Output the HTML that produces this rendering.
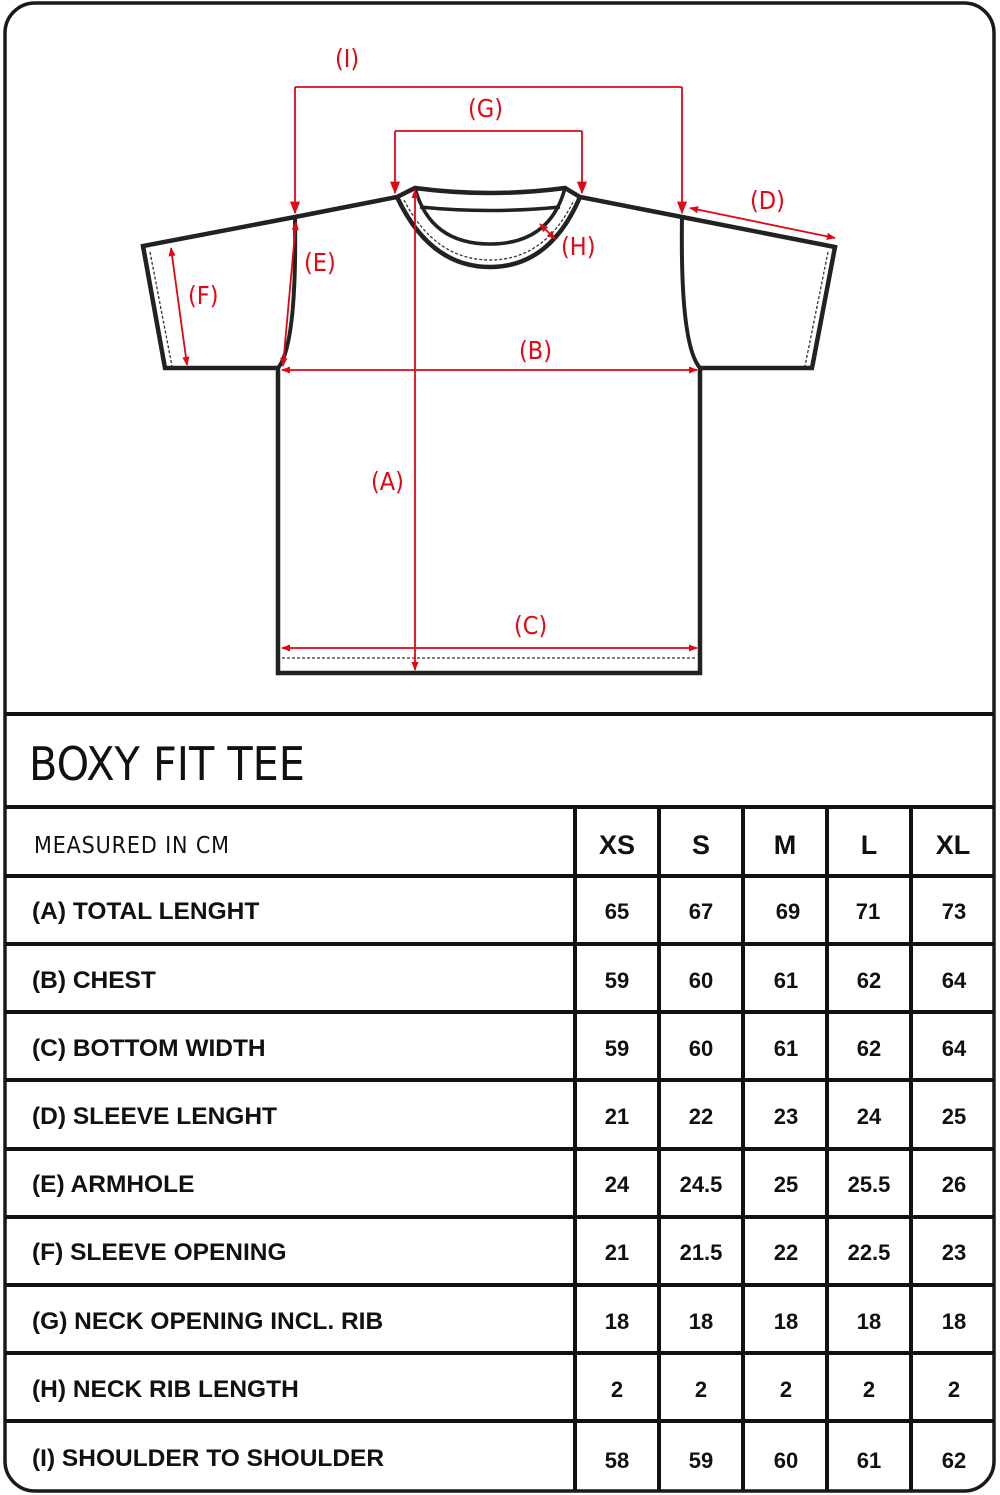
<!DOCTYPE html>
<html><head><meta charset="utf-8"><style>
html,body{margin:0;padding:0;background:#fff}
svg{display:block}
.r{fill:#e30613;font-family:"DejaVu Sans Condensed","Liberation Sans",sans-serif;font-size:25px}
.t{font-family:"Liberation Sans",sans-serif;font-weight:bold;font-size:24.5px;fill:#111}
.n{font-family:"Liberation Sans",sans-serif;font-weight:bold;font-size:22px;fill:#111;text-anchor:middle}
</style></head><body>
<svg width="1000" height="1495" viewBox="0 0 1000 1495" xmlns="http://www.w3.org/2000/svg">
<defs>
<marker id="a" viewBox="0 0 10 10" refX="9" refY="5" markerWidth="7" markerHeight="7" orient="auto-start-reverse"><path d="M0,1 L10,5 L0,9 z" fill="#e30613"/></marker>
<marker id="s" viewBox="0 0 10 10" refX="9" refY="5" markerWidth="5" markerHeight="5" orient="auto-start-reverse"><path d="M0,1 L10,5 L0,9 z" fill="#e30613"/></marker>
</defs>
<rect x="5" y="3" width="989" height="1488" rx="30" fill="#fff" stroke="#1a1a1a" stroke-width="3.5"/>
<g fill="none" stroke="#222" stroke-width="4.5" stroke-linejoin="miter">
<path d="M397,197 L415,188 Q490,198 565,188 L580,197 L682,217 L835,247 L812,368 L700,368 L700,673 L278,673 L278,368 L165,368 L143,246 L295,217 Z" fill="#fff"/>
<path d="M397,197 Q430,267 490,267 Q550,267 580,197"/>
<path d="M415,188 Q430,244 490,244 Q550,244 565,188" stroke-width="3.5"/>
<path d="M420,207 Q490,214 560,207" stroke-width="3.5"/>
<path d="M295,217 Q297,345 278,368" stroke-width="4"/>
<path d="M682,217 Q680,345 700,368" stroke-width="4"/>
</g>
<g fill="none" stroke="#333" stroke-width="1.3" stroke-dasharray="3,2">
<path d="M404,200 Q435,260 490,260 Q545,260 574,200"/>
<path d="M150,252 L172,366"/>
<path d="M828,252 L805,366"/>
<path d="M282,658 L697,658"/>
</g>
<g stroke="#e30613" stroke-width="1.8" fill="none">
<path d="M295,87 L682,87"/>
<path d="M295,87 L295,213" marker-end="url(#a)"/>
<path d="M682,87 L682,213" marker-end="url(#a)"/>
<path d="M395,131 L582,131"/>
<path d="M395,131 L395,193" marker-end="url(#a)"/>
<path d="M582,131 L582,193" marker-end="url(#a)"/>
<path d="M415,190 L415,670" marker-start="url(#s)" marker-end="url(#s)"/>
<path d="M282,370 L697,370" marker-start="url(#s)" marker-end="url(#s)"/>
<path d="M282,648 L697,648" marker-start="url(#s)" marker-end="url(#s)"/>
<path d="M690,208 L835,238" marker-start="url(#s)" marker-end="url(#s)"/>
<path d="M283,366 L296,222" marker-start="url(#s)" marker-end="url(#s)"/>
<path d="M171,248 L187,365" marker-start="url(#s)" marker-end="url(#s)"/>
<path d="M540,224 L555,239" marker-start="url(#s)" marker-end="url(#s)"/>
</g>
<text class="r" x="335" y="67">(I)</text>
<text class="r" x="468" y="117">(G)</text>
<text class="r" x="750" y="209">(D)</text>
<text class="r" x="561" y="255">(H)</text>
<text class="r" x="304" y="271">(E)</text>
<text class="r" x="188" y="304">(F)</text>
<text class="r" x="519" y="359">(B)</text>
<text class="r" x="371" y="490">(A)</text>
<text class="r" x="514" y="634">(C)</text>
<g stroke="#111" stroke-width="4">
<line x1="5" y1="714" x2="994" y2="714"/>
<line x1="5" y1="807" x2="994" y2="807"/>
<line x1="5" y1="876" x2="994" y2="876"/>
<line x1="5" y1="944" x2="994" y2="944"/>
<line x1="5" y1="1012" x2="994" y2="1012"/>
<line x1="5" y1="1080" x2="994" y2="1080"/>
<line x1="5" y1="1149" x2="994" y2="1149"/>
<line x1="5" y1="1217" x2="994" y2="1217"/>
<line x1="5" y1="1285" x2="994" y2="1285"/>
<line x1="5" y1="1353" x2="994" y2="1353"/>
<line x1="5" y1="1421" x2="994" y2="1421"/>
<line x1="575" y1="807" x2="575" y2="1490"/>
<line x1="659" y1="807" x2="659" y2="1490"/>
<line x1="743" y1="807" x2="743" y2="1490"/>
<line x1="827" y1="807" x2="827" y2="1490"/>
<line x1="911" y1="807" x2="911" y2="1490"/>
</g>
<text x="29" y="780" style="font-family:'DejaVu Sans Condensed','Liberation Sans',sans-serif;font-size:46px;fill:#111">BOXY FIT TEE</text>
<text x="34" y="853" style="font-family:'DejaVu Sans Condensed','Liberation Sans',sans-serif;font-size:23px;fill:#111" textLength="195">MEASURED IN CM</text>
<g class="n" style="font-size:27px">
<text x="617" y="854">XS</text><text x="701" y="854">S</text><text x="785" y="854">M</text><text x="869" y="854">L</text><text x="953" y="854">XL</text>
</g>
<g class="t">
<text x="32" y="919">(A) TOTAL LENGHT</text>
<text x="32" y="988">(B) CHEST</text>
<text x="32" y="1056">(C) BOTTOM WIDTH</text>
<text x="32" y="1124">(D) SLEEVE LENGHT</text>
<text x="32" y="1192">(E) ARMHOLE</text>
<text x="32" y="1260">(F) SLEEVE OPENING</text>
<text x="32" y="1329">(G) NECK OPENING INCL. RIB</text>
<text x="32" y="1397">(H) NECK RIB LENGTH</text>
<text x="32" y="1466">(I) SHOULDER TO SHOULDER</text>
</g>
<g class="n">
<text x="617" y="919">65</text><text x="701" y="919">67</text><text x="788" y="919">69</text><text x="868" y="919">71</text><text x="954" y="919">73</text>
<text x="617" y="988">59</text><text x="701" y="988">60</text><text x="786" y="988">61</text><text x="869" y="988">62</text><text x="954" y="988">64</text>
<text x="617" y="1056">59</text><text x="701" y="1056">60</text><text x="786" y="1056">61</text><text x="869" y="1056">62</text><text x="954" y="1056">64</text>
<text x="617" y="1124">21</text><text x="701" y="1124">22</text><text x="786" y="1124">23</text><text x="869" y="1124">24</text><text x="954" y="1124">25</text>
<text x="617" y="1192">24</text><text x="701" y="1192">24.5</text><text x="786" y="1192">25</text><text x="869" y="1192">25.5</text><text x="954" y="1192">26</text>
<text x="617" y="1260">21</text><text x="701" y="1260">21.5</text><text x="786" y="1260">22</text><text x="869" y="1260">22.5</text><text x="954" y="1260">23</text>
<text x="617" y="1329">18</text><text x="701" y="1329">18</text><text x="786" y="1329">18</text><text x="869" y="1329">18</text><text x="954" y="1329">18</text>
<text x="617" y="1397">2</text><text x="701" y="1397">2</text><text x="786" y="1397">2</text><text x="869" y="1397">2</text><text x="954" y="1397">2</text>
<text x="617" y="1468">58</text><text x="701" y="1468">59</text><text x="786" y="1468">60</text><text x="869" y="1468">61</text><text x="954" y="1468">62</text>
</g>
</svg>
</body></html>
